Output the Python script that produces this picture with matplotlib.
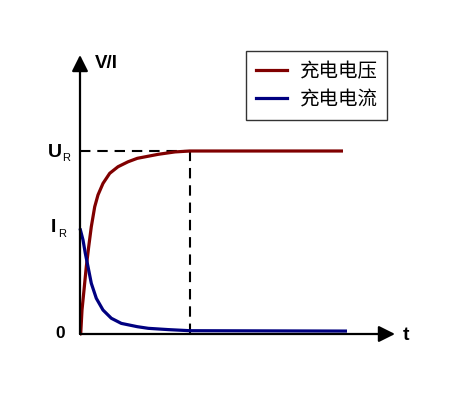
import matplotlib
matplotlib.use("Agg")
import matplotlib.pyplot as plt
from matplotlib.lines import Line2D

# ---- data ----
t_voltage = [0, 0.07, 0.2, 0.4, 0.63, 0.87, 1.13, 1.47, 1.8, 2.3, 2.97, 3.8, 4.8, 5.73, 7.83, 9.5, 11.0, 26.3]
v_voltage = [0, 0.0, 0.131, 0.240, 0.368, 0.477, 0.586, 0.695, 0.760, 0.823, 0.878, 0.914, 0.941, 0.960, 0.982, 0.995, 1.0, 1.0]
t_current = [0, 0.3, 0.53, 0.8, 1.13, 1.63, 2.3, 3.13, 4.13, 5.73, 6.83, 8.83, 11.0, 26.7]
i_current = [0.577, 0.514, 0.441, 0.368, 0.277, 0.195, 0.131, 0.086, 0.058, 0.040, 0.031, 0.024, 0.018, 0.016]
series_labels = ["充电电压", "充电电流"]
U_R = 1.0
I_R = 0.577
t_mark = 11.0

plt.rcParams['font.family'] = ['Liberation Sans', 'DejaVu Sans']

W, H = 469, 403
fig = plt.figure(figsize=(W / 100, H / 100), dpi=100)
x0, y0 = 80, 334          # origin in pixels (from top-left)
x1, ytop = 395, 55        # arrow tips
ax = fig.add_axes([x0 / W, (H - y0) / H, (x1 - x0) / W, (y0 - ytop) / H])
ax.set_xlim(0, 31.5)
ax.set_ylim(0, (y0 - ytop) / 183)
ax.axis('off')

red = '#800000'
blue = '#000080'
ax.plot(t_voltage, v_voltage, color=red, lw=2.3, solid_capstyle='butt',
        solid_joinstyle='round', clip_on=False, zorder=3)
ax.plot(t_current, i_current, color=blue, lw=2.3, solid_capstyle='butt',
        solid_joinstyle='round', clip_on=False, zorder=3)

# dashed guide lines
ax.plot([0, t_mark], [U_R, U_R], color='k', lw=1.5, dashes=(5, 3.3), zorder=2)
ax.plot([t_mark, t_mark], [0, U_R], color='k', lw=1.5, dashes=(5, 3.3), zorder=2)

# axes with arrows
ap = dict(arrowstyle='-|>,head_length=0.7,head_width=0.35', lw=1.6, color='k',
          shrinkA=0, shrinkB=0, mutation_scale=14)
ax.annotate('', xy=(1, 0), xytext=(0, 0), xycoords='axes fraction', arrowprops=ap, zorder=4)
ax.annotate('', xy=(0, 1), xytext=(0, 0), xycoords='axes fraction', arrowprops=ap, zorder=4)

def px(x, y):
    return (x / W, 1 - y / H)

fig.text(*px(95, 63), 'V/I', fontsize=13.5, fontweight='bold', ha='left', va='center')
fig.text(*px(403, 336), 't', fontsize=14, fontweight='bold', ha='left', va='center')
fig.text(*px(62, 153), 'U', fontsize=14, fontweight='bold', ha='right', va='center')
fig.text(*px(62, 161), 'R', fontsize=8, ha='left', va='baseline')
fig.text(*px(56, 228), 'I', fontsize=14, fontweight='bold', ha='right', va='center')
fig.text(*px(58, 237), 'R', fontsize=8, ha='left', va='baseline')
fig.text(*px(65, 333), '0', fontsize=12.5, fontweight='bold', ha='right', va='center')

handles = [Line2D([], [], color=red, lw=2.3), Line2D([], [], color=blue, lw=2.3)]
leg = fig.legend(handles, series_labels, loc='upper left',
                 bbox_to_anchor=(246 / W, 1 - 51 / H), bbox_transform=fig.transFigure,
                 borderaxespad=0, frameon=True, fancybox=False, shadow=False,
                 prop={'family': ['Noto Sans CJK SC', 'DejaVu Sans'], 'size': 14},
                 handlelength=1.6, handletextpad=0.65, borderpad=0.5, labelspacing=0.38)
leg.get_frame().set_edgecolor('black')
leg.get_frame().set_linewidth(1.0)

fig.savefig('out.png', dpi=100)
